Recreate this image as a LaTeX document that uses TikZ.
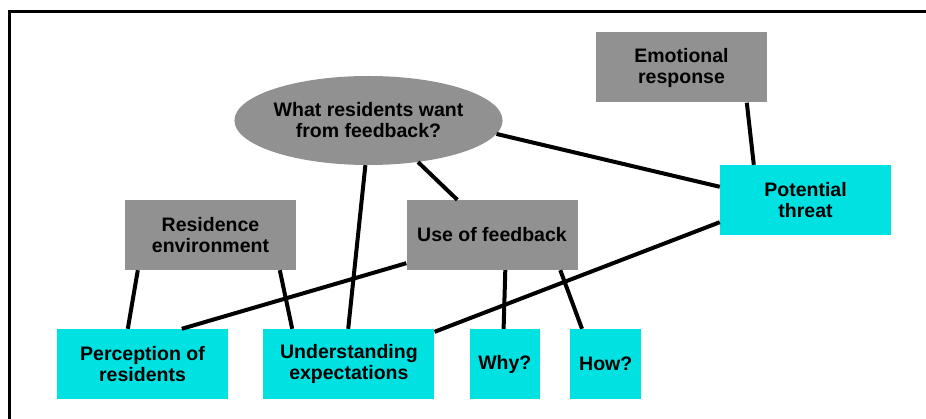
\documentclass[tikz,border=0pt]{standalone}
\usepackage{fontspec}
\setmainfont{Liberation Sans}
\usetikzlibrary{positioning,calc}
\usetikzlibrary{shapes}

\definecolor{boxgrey}{RGB}{145,145,145}
\definecolor{boxcyan}{RGB}{0,225,225}

\begin{document}
\begin{tikzpicture}[x=1pt, y=-1pt,
    every node/.style={font=\fontsize{19.5}{21}\selectfont\bfseries, align=center, inner sep=0pt},
    greybox/.style={fill=boxgrey, minimum width=171pt, minimum height=70pt},
    cyanbox/.style={fill=boxcyan, minimum width=171pt, minimum height=70pt},
    link/.style={line width=4pt}]
    \useasboundingbox (0,0) rectangle (926,419);
    \draw[line width=3pt] (9,419) -- (9,12) -- (926,12);

    \node (ask) [ellipse, fill=boxgrey, minimum width=253pt, minimum height=89pt] at (368.5,120.5) {What residents want\\from feedback?};
    \node (emo) [greybox] at (681.5,67.5) {Emotional\\response};
    \node (threat) [cyanbox] at (805.5,200) {Potential\\threat};
    \node (env) [greybox] at (210.5,235) {Residence\\environment};
    \node (use) [greybox] at (492,235) {Use of feedback};
    % bottom row
    \node (perc) [cyanbox] at (142.5,364) {Perception of\\residents};
    \node (expect) [cyanbox, right=35pt of perc] {Understanding\\expectations};
    \node (why) [cyanbox, minimum width=70pt, right=35pt of expect] {Why?};
    \node (how) [cyanbox, minimum width=71pt, right=30pt of why] {How?};

    \draw[link] (ask.-94) -- ($(expect.north west)+(85,0)$);
    \draw[link] (ask.-40) -- ($(use.north west)+(51,0)$);
    \draw[link] (ask.-6) -- ($(threat.north west)+(0,22)$);
    \draw[link] ($(emo.south west)+(151,0)$) -- ($(threat.north west)+(34,0)$);
    \draw[link] ($(env.south west)+(13,0)$) -- ($(perc.north west)+(71,0)$);
    \draw[link] ($(env.south west)+(155,0)$) -- ($(expect.north west)+(29,0)$);
    \draw[link] ($(use.south west)+(0,-7)$) -- ($(perc.north west)+(125,0)$);
    \draw[link] ($(threat.south west)+(0,-13)$) -- ($(expect.north east)+(0,3)$);
    \draw[link] ($(use.south west)+(99,0)$) -- ($(why.north west)+(34,0)$);
    \draw[link] ($(use.south west)+(154,0)$) -- ($(how.north west)+(12,0)$);
\end{tikzpicture}
\end{document}
